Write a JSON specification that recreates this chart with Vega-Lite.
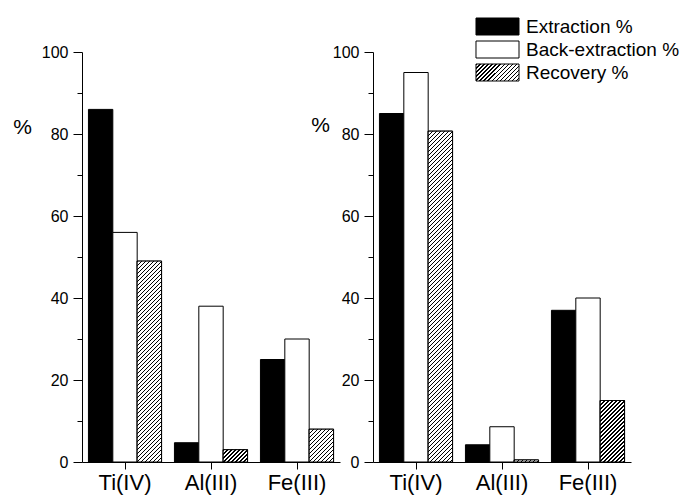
{
"$schema": "https://vega.github.io/schema/vega-lite/v6.json",
"padding": {"left": 12, "top": 17, "right": 5, "bottom": 5},
"params": [{"name": "hs", "value": [
{"offset":0,"color":"#000"},{"offset":0.004,"color":"#000"},{"offset":0.004,"color":"#fff"},{"offset":0.01,"color":"#fff"},
{"offset":0.01,"color":"#000"},{"offset":0.014,"color":"#000"},{"offset":0.014,"color":"#fff"},{"offset":0.02,"color":"#fff"},
{"offset":0.02,"color":"#000"},{"offset":0.024,"color":"#000"},{"offset":0.024,"color":"#fff"},{"offset":0.03,"color":"#fff"},
{"offset":0.03,"color":"#000"},{"offset":0.034,"color":"#000"},{"offset":0.034,"color":"#fff"},{"offset":0.04,"color":"#fff"},
{"offset":0.04,"color":"#000"},{"offset":0.044,"color":"#000"},{"offset":0.044,"color":"#fff"},{"offset":0.05,"color":"#fff"},
{"offset":0.05,"color":"#000"},{"offset":0.054,"color":"#000"},{"offset":0.054,"color":"#fff"},{"offset":0.06,"color":"#fff"},
{"offset":0.06,"color":"#000"},{"offset":0.064,"color":"#000"},{"offset":0.064,"color":"#fff"},{"offset":0.07,"color":"#fff"},
{"offset":0.07,"color":"#000"},{"offset":0.074,"color":"#000"},{"offset":0.074,"color":"#fff"},{"offset":0.08,"color":"#fff"},
{"offset":0.08,"color":"#000"},{"offset":0.084,"color":"#000"},{"offset":0.084,"color":"#fff"},{"offset":0.09,"color":"#fff"},
{"offset":0.09,"color":"#000"},{"offset":0.094,"color":"#000"},{"offset":0.094,"color":"#fff"},{"offset":0.1,"color":"#fff"},
{"offset":0.1,"color":"#000"},{"offset":0.104,"color":"#000"},{"offset":0.104,"color":"#fff"},{"offset":0.11,"color":"#fff"},
{"offset":0.11,"color":"#000"},{"offset":0.114,"color":"#000"},{"offset":0.114,"color":"#fff"},{"offset":0.12,"color":"#fff"},
{"offset":0.12,"color":"#000"},{"offset":0.124,"color":"#000"},{"offset":0.124,"color":"#fff"},{"offset":0.13,"color":"#fff"},
{"offset":0.13,"color":"#000"},{"offset":0.134,"color":"#000"},{"offset":0.134,"color":"#fff"},{"offset":0.14,"color":"#fff"},
{"offset":0.14,"color":"#000"},{"offset":0.144,"color":"#000"},{"offset":0.144,"color":"#fff"},{"offset":0.15,"color":"#fff"},
{"offset":0.15,"color":"#000"},{"offset":0.154,"color":"#000"},{"offset":0.154,"color":"#fff"},{"offset":0.16,"color":"#fff"},
{"offset":0.16,"color":"#000"},{"offset":0.164,"color":"#000"},{"offset":0.164,"color":"#fff"},{"offset":0.17,"color":"#fff"},
{"offset":0.17,"color":"#000"},{"offset":0.174,"color":"#000"},{"offset":0.174,"color":"#fff"},{"offset":0.18,"color":"#fff"},
{"offset":0.18,"color":"#000"},{"offset":0.184,"color":"#000"},{"offset":0.184,"color":"#fff"},{"offset":0.19,"color":"#fff"},
{"offset":0.19,"color":"#000"},{"offset":0.194,"color":"#000"},{"offset":0.194,"color":"#fff"},{"offset":0.2,"color":"#fff"},
{"offset":0.2,"color":"#000"},{"offset":0.204,"color":"#000"},{"offset":0.204,"color":"#fff"},{"offset":0.21,"color":"#fff"},
{"offset":0.21,"color":"#000"},{"offset":0.214,"color":"#000"},{"offset":0.214,"color":"#fff"},{"offset":0.22,"color":"#fff"},
{"offset":0.22,"color":"#000"},{"offset":0.224,"color":"#000"},{"offset":0.224,"color":"#fff"},{"offset":0.23,"color":"#fff"},
{"offset":0.23,"color":"#000"},{"offset":0.234,"color":"#000"},{"offset":0.234,"color":"#fff"},{"offset":0.24,"color":"#fff"},
{"offset":0.24,"color":"#000"},{"offset":0.244,"color":"#000"},{"offset":0.244,"color":"#fff"},{"offset":0.25,"color":"#fff"},
{"offset":0.25,"color":"#000"},{"offset":0.254,"color":"#000"},{"offset":0.254,"color":"#fff"},{"offset":0.26,"color":"#fff"},
{"offset":0.26,"color":"#000"},{"offset":0.264,"color":"#000"},{"offset":0.264,"color":"#fff"},{"offset":0.27,"color":"#fff"},
{"offset":0.27,"color":"#000"},{"offset":0.274,"color":"#000"},{"offset":0.274,"color":"#fff"},{"offset":0.28,"color":"#fff"},
{"offset":0.28,"color":"#000"},{"offset":0.284,"color":"#000"},{"offset":0.284,"color":"#fff"},{"offset":0.29,"color":"#fff"},
{"offset":0.29,"color":"#000"},{"offset":0.294,"color":"#000"},{"offset":0.294,"color":"#fff"},{"offset":0.3,"color":"#fff"},
{"offset":0.3,"color":"#000"},{"offset":0.304,"color":"#000"},{"offset":0.304,"color":"#fff"},{"offset":0.31,"color":"#fff"},
{"offset":0.31,"color":"#000"},{"offset":0.314,"color":"#000"},{"offset":0.314,"color":"#fff"},{"offset":0.32,"color":"#fff"},
{"offset":0.32,"color":"#000"},{"offset":0.324,"color":"#000"},{"offset":0.324,"color":"#fff"},{"offset":0.33,"color":"#fff"},
{"offset":0.33,"color":"#000"},{"offset":0.334,"color":"#000"},{"offset":0.334,"color":"#fff"},{"offset":0.34,"color":"#fff"},
{"offset":0.34,"color":"#000"},{"offset":0.344,"color":"#000"},{"offset":0.344,"color":"#fff"},{"offset":0.35,"color":"#fff"},
{"offset":0.35,"color":"#000"},{"offset":0.354,"color":"#000"},{"offset":0.354,"color":"#fff"},{"offset":0.36,"color":"#fff"},
{"offset":0.36,"color":"#000"},{"offset":0.364,"color":"#000"},{"offset":0.364,"color":"#fff"},{"offset":0.37,"color":"#fff"},
{"offset":0.37,"color":"#000"},{"offset":0.374,"color":"#000"},{"offset":0.374,"color":"#fff"},{"offset":0.38,"color":"#fff"},
{"offset":0.38,"color":"#000"},{"offset":0.384,"color":"#000"},{"offset":0.384,"color":"#fff"},{"offset":0.39,"color":"#fff"},
{"offset":0.39,"color":"#000"},{"offset":0.394,"color":"#000"},{"offset":0.394,"color":"#fff"},{"offset":0.4,"color":"#fff"},
{"offset":0.4,"color":"#000"},{"offset":0.404,"color":"#000"},{"offset":0.404,"color":"#fff"},{"offset":0.41,"color":"#fff"},
{"offset":0.41,"color":"#000"},{"offset":0.414,"color":"#000"},{"offset":0.414,"color":"#fff"},{"offset":0.42,"color":"#fff"},
{"offset":0.42,"color":"#000"},{"offset":0.424,"color":"#000"},{"offset":0.424,"color":"#fff"},{"offset":0.43,"color":"#fff"},
{"offset":0.43,"color":"#000"},{"offset":0.434,"color":"#000"},{"offset":0.434,"color":"#fff"},{"offset":0.44,"color":"#fff"},
{"offset":0.44,"color":"#000"},{"offset":0.444,"color":"#000"},{"offset":0.444,"color":"#fff"},{"offset":0.45,"color":"#fff"},
{"offset":0.45,"color":"#000"},{"offset":0.454,"color":"#000"},{"offset":0.454,"color":"#fff"},{"offset":0.46,"color":"#fff"},
{"offset":0.46,"color":"#000"},{"offset":0.464,"color":"#000"},{"offset":0.464,"color":"#fff"},{"offset":0.47,"color":"#fff"},
{"offset":0.47,"color":"#000"},{"offset":0.474,"color":"#000"},{"offset":0.474,"color":"#fff"},{"offset":0.48,"color":"#fff"},
{"offset":0.48,"color":"#000"},{"offset":0.484,"color":"#000"},{"offset":0.484,"color":"#fff"},{"offset":0.49,"color":"#fff"},
{"offset":0.49,"color":"#000"},{"offset":0.494,"color":"#000"},{"offset":0.494,"color":"#fff"},{"offset":0.5,"color":"#fff"},
{"offset":0.5,"color":"#000"},{"offset":0.504,"color":"#000"},{"offset":0.504,"color":"#fff"},{"offset":0.51,"color":"#fff"},
{"offset":0.51,"color":"#000"},{"offset":0.514,"color":"#000"},{"offset":0.514,"color":"#fff"},{"offset":0.52,"color":"#fff"},
{"offset":0.52,"color":"#000"},{"offset":0.524,"color":"#000"},{"offset":0.524,"color":"#fff"},{"offset":0.53,"color":"#fff"},
{"offset":0.53,"color":"#000"},{"offset":0.534,"color":"#000"},{"offset":0.534,"color":"#fff"},{"offset":0.54,"color":"#fff"},
{"offset":0.54,"color":"#000"},{"offset":0.544,"color":"#000"},{"offset":0.544,"color":"#fff"},{"offset":0.55,"color":"#fff"},
{"offset":0.55,"color":"#000"},{"offset":0.554,"color":"#000"},{"offset":0.554,"color":"#fff"},{"offset":0.56,"color":"#fff"},
{"offset":0.56,"color":"#000"},{"offset":0.564,"color":"#000"},{"offset":0.564,"color":"#fff"},{"offset":0.57,"color":"#fff"},
{"offset":0.57,"color":"#000"},{"offset":0.574,"color":"#000"},{"offset":0.574,"color":"#fff"},{"offset":0.58,"color":"#fff"},
{"offset":0.58,"color":"#000"},{"offset":0.584,"color":"#000"},{"offset":0.584,"color":"#fff"},{"offset":0.59,"color":"#fff"},
{"offset":0.59,"color":"#000"},{"offset":0.594,"color":"#000"},{"offset":0.594,"color":"#fff"},{"offset":0.6,"color":"#fff"},
{"offset":0.6,"color":"#000"},{"offset":0.604,"color":"#000"},{"offset":0.604,"color":"#fff"},{"offset":0.61,"color":"#fff"},
{"offset":0.61,"color":"#000"},{"offset":0.614,"color":"#000"},{"offset":0.614,"color":"#fff"},{"offset":0.62,"color":"#fff"},
{"offset":0.62,"color":"#000"},{"offset":0.624,"color":"#000"},{"offset":0.624,"color":"#fff"},{"offset":0.63,"color":"#fff"},
{"offset":0.63,"color":"#000"},{"offset":0.634,"color":"#000"},{"offset":0.634,"color":"#fff"},{"offset":0.64,"color":"#fff"},
{"offset":0.64,"color":"#000"},{"offset":0.644,"color":"#000"},{"offset":0.644,"color":"#fff"},{"offset":0.65,"color":"#fff"},
{"offset":0.65,"color":"#000"},{"offset":0.654,"color":"#000"},{"offset":0.654,"color":"#fff"},{"offset":0.66,"color":"#fff"},
{"offset":0.66,"color":"#000"},{"offset":0.664,"color":"#000"},{"offset":0.664,"color":"#fff"},{"offset":0.67,"color":"#fff"},
{"offset":0.67,"color":"#000"},{"offset":0.674,"color":"#000"},{"offset":0.674,"color":"#fff"},{"offset":0.68,"color":"#fff"},
{"offset":0.68,"color":"#000"},{"offset":0.684,"color":"#000"},{"offset":0.684,"color":"#fff"},{"offset":0.69,"color":"#fff"},
{"offset":0.69,"color":"#000"},{"offset":0.694,"color":"#000"},{"offset":0.694,"color":"#fff"},{"offset":0.7,"color":"#fff"},
{"offset":0.7,"color":"#000"},{"offset":0.704,"color":"#000"},{"offset":0.704,"color":"#fff"},{"offset":0.71,"color":"#fff"},
{"offset":0.71,"color":"#000"},{"offset":0.714,"color":"#000"},{"offset":0.714,"color":"#fff"},{"offset":0.72,"color":"#fff"},
{"offset":0.72,"color":"#000"},{"offset":0.724,"color":"#000"},{"offset":0.724,"color":"#fff"},{"offset":0.73,"color":"#fff"},
{"offset":0.73,"color":"#000"},{"offset":0.734,"color":"#000"},{"offset":0.734,"color":"#fff"},{"offset":0.74,"color":"#fff"},
{"offset":0.74,"color":"#000"},{"offset":0.744,"color":"#000"},{"offset":0.744,"color":"#fff"},{"offset":0.75,"color":"#fff"},
{"offset":0.75,"color":"#000"},{"offset":0.754,"color":"#000"},{"offset":0.754,"color":"#fff"},{"offset":0.76,"color":"#fff"},
{"offset":0.76,"color":"#000"},{"offset":0.764,"color":"#000"},{"offset":0.764,"color":"#fff"},{"offset":0.77,"color":"#fff"},
{"offset":0.77,"color":"#000"},{"offset":0.774,"color":"#000"},{"offset":0.774,"color":"#fff"},{"offset":0.78,"color":"#fff"},
{"offset":0.78,"color":"#000"},{"offset":0.784,"color":"#000"},{"offset":0.784,"color":"#fff"},{"offset":0.79,"color":"#fff"},
{"offset":0.79,"color":"#000"},{"offset":0.794,"color":"#000"},{"offset":0.794,"color":"#fff"},{"offset":0.8,"color":"#fff"},
{"offset":0.8,"color":"#000"},{"offset":0.804,"color":"#000"},{"offset":0.804,"color":"#fff"},{"offset":0.81,"color":"#fff"},
{"offset":0.81,"color":"#000"},{"offset":0.814,"color":"#000"},{"offset":0.814,"color":"#fff"},{"offset":0.82,"color":"#fff"},
{"offset":0.82,"color":"#000"},{"offset":0.824,"color":"#000"},{"offset":0.824,"color":"#fff"},{"offset":0.83,"color":"#fff"},
{"offset":0.83,"color":"#000"},{"offset":0.834,"color":"#000"},{"offset":0.834,"color":"#fff"},{"offset":0.84,"color":"#fff"},
{"offset":0.84,"color":"#000"},{"offset":0.844,"color":"#000"},{"offset":0.844,"color":"#fff"},{"offset":0.85,"color":"#fff"},
{"offset":0.85,"color":"#000"},{"offset":0.854,"color":"#000"},{"offset":0.854,"color":"#fff"},{"offset":0.86,"color":"#fff"},
{"offset":0.86,"color":"#000"},{"offset":0.864,"color":"#000"},{"offset":0.864,"color":"#fff"},{"offset":0.87,"color":"#fff"},
{"offset":0.87,"color":"#000"},{"offset":0.874,"color":"#000"},{"offset":0.874,"color":"#fff"},{"offset":0.88,"color":"#fff"},
{"offset":0.88,"color":"#000"},{"offset":0.884,"color":"#000"},{"offset":0.884,"color":"#fff"},{"offset":0.89,"color":"#fff"},
{"offset":0.89,"color":"#000"},{"offset":0.894,"color":"#000"},{"offset":0.894,"color":"#fff"},{"offset":0.9,"color":"#fff"},
{"offset":0.9,"color":"#000"},{"offset":0.904,"color":"#000"},{"offset":0.904,"color":"#fff"},{"offset":0.91,"color":"#fff"},
{"offset":0.91,"color":"#000"},{"offset":0.914,"color":"#000"},{"offset":0.914,"color":"#fff"},{"offset":0.92,"color":"#fff"},
{"offset":0.92,"color":"#000"},{"offset":0.924,"color":"#000"},{"offset":0.924,"color":"#fff"},{"offset":0.93,"color":"#fff"},
{"offset":0.93,"color":"#000"},{"offset":0.934,"color":"#000"},{"offset":0.934,"color":"#fff"},{"offset":0.94,"color":"#fff"},
{"offset":0.94,"color":"#000"},{"offset":0.944,"color":"#000"},{"offset":0.944,"color":"#fff"},{"offset":0.95,"color":"#fff"},
{"offset":0.95,"color":"#000"},{"offset":0.954,"color":"#000"},{"offset":0.954,"color":"#fff"},{"offset":0.96,"color":"#fff"},
{"offset":0.96,"color":"#000"},{"offset":0.964,"color":"#000"},{"offset":0.964,"color":"#fff"},{"offset":0.97,"color":"#fff"},
{"offset":0.97,"color":"#000"},{"offset":0.974,"color":"#000"},{"offset":0.974,"color":"#fff"},{"offset":0.98,"color":"#fff"},
{"offset":0.98,"color":"#000"},{"offset":0.984,"color":"#000"},{"offset":0.984,"color":"#fff"},{"offset":0.99,"color":"#fff"},
{"offset":0.99,"color":"#000"},{"offset":0.994,"color":"#000"},{"offset":0.994,"color":"#fff"},{"offset":1,"color":"#fff"}
]}],
"config": {
  "font": "Liberation Sans",
  "view": {"stroke": null},
  "axis": {"grid": false, "domainColor": "black", "tickColor": "black", "labelColor": "black", "titleColor": "black", "domainWidth": 1, "tickWidth": 1}
},
"datasets": {
  "left": [
    {"metal": "Ti(IV)", "series": "Extraction %", "v": 86},
    {"metal": "Ti(IV)", "series": "Back-extraction %", "v": 56},
    {"metal": "Ti(IV)", "series": "Recovery %", "v": 49},
    {"metal": "Al(III)", "series": "Extraction %", "v": 4.7},
    {"metal": "Al(III)", "series": "Back-extraction %", "v": 38},
    {"metal": "Al(III)", "series": "Recovery %", "v": 3},
    {"metal": "Fe(III)", "series": "Extraction %", "v": 25},
    {"metal": "Fe(III)", "series": "Back-extraction %", "v": 30},
    {"metal": "Fe(III)", "series": "Recovery %", "v": 8}
  ],
  "right": [
    {"metal": "Ti(IV)", "series": "Extraction %", "v": 85},
    {"metal": "Ti(IV)", "series": "Back-extraction %", "v": 95},
    {"metal": "Ti(IV)", "series": "Recovery %", "v": 80.7},
    {"metal": "Al(III)", "series": "Extraction %", "v": 4.2},
    {"metal": "Al(III)", "series": "Back-extraction %", "v": 8.6},
    {"metal": "Al(III)", "series": "Recovery %", "v": 0.5},
    {"metal": "Fe(III)", "series": "Extraction %", "v": 37},
    {"metal": "Fe(III)", "series": "Back-extraction %", "v": 40},
    {"metal": "Fe(III)", "series": "Recovery %", "v": 15}
  ]
},
"spacing": 33,
"bounds": "flush",
"resolve": {"scale": {"fill": "independent"}, "legend": {"fill": "independent"}},
"hconcat": [
  {
    "width": 258, "height": 410,
    "data": {"name": "left"},
    "encoding": {
      "x": {"field": "metal", "type": "nominal", "sort": ["Ti(IV)", "Al(III)", "Fe(III)"], "scale": {"paddingInner": 0.15, "paddingOuter": 0.075},
            "axis": {"title": null, "labelAngle": 0, "labelFontSize": 22, "tickSize": 7, "labelPadding": 3}},
      "xOffset": {"field": "series", "type": "nominal", "scale": {"domain": ["Extraction %", "Back-extraction %", "Recovery %"]}}
    },
    "resolve": {"axis": {"y": "independent"}},
    "layer": [
      {"mark": {"type": "bar", "stroke": "black", "strokeWidth": 1},
       "encoding": {
         "y": {"field": "v", "type": "quantitative", "scale": {"domain": [0, 100]},
               "axis": {"orient": "left", "values": [0,20,40,60,80,100], "tickSize": 9,
                        "labelFontSize": 16, "labelPadding": 5, "title": "%", "titleAngle": 0, "titleX": -60, "titleY": 75,
                        "titleFontSize": 21, "titleFontWeight": "normal", "titleAlign": "center", "titleBaseline": "middle"}},
         "fill": {"field": "series", "type": "nominal", "scale": {"domain": ["Extraction %", "Back-extraction %", "Recovery %"], "range": ["black", "white", "white"]}, "legend": null}}},
      {"transform": [{"filter": "datum.series === 'Recovery %'"}],
       "mark": {"type": "bar", "stroke": "black", "strokeWidth": 1,
                "fill": {"expr": "{gradient: 'linear', x1: 0, y1: 0, x2: 24.4*400/(595+pow(datum.v*4.1,2)), y2: datum.v*4.1*400/(595+pow(datum.v*4.1,2)), stops: hs}"}},
       "encoding": {
         "y": {"field": "v", "type": "quantitative",
               "axis": {"orient": "left", "values": [10,30,50,70,90], "tickSize": 5, "labels": false, "domain": false, "title": null}}}}
    ]
  },
  {
    "width": 258, "height": 410,
    "data": {"name": "right"},
    "encoding": {
      "x": {"field": "metal", "type": "nominal", "sort": ["Ti(IV)", "Al(III)", "Fe(III)"], "scale": {"paddingInner": 0.15, "paddingOuter": 0.075},
            "axis": {"title": null, "labelAngle": 0, "labelFontSize": 22, "tickSize": 7, "labelPadding": 3}},
      "xOffset": {"field": "series", "type": "nominal", "scale": {"domain": ["Extraction %", "Back-extraction %", "Recovery %"]}}
    },
    "resolve": {"axis": {"y": "independent"}},
    "layer": [
      {"mark": {"type": "bar", "stroke": "black", "strokeWidth": 1},
       "encoding": {
         "y": {"field": "v", "type": "quantitative", "scale": {"domain": [0, 100]},
               "axis": {"orient": "left", "values": [0,20,40,60,80,100], "tickSize": 9,
                        "labelFontSize": 16, "labelPadding": 5, "title": "%", "titleAngle": 0, "titleX": -53, "titleY": 73,
                        "titleFontSize": 21, "titleFontWeight": "normal", "titleAlign": "center", "titleBaseline": "middle"}},
         "fill": {"field": "series", "type": "nominal",
           "scale": {"domain": ["Extraction %", "Back-extraction %", "Recovery %"],
                     "range": ["black", "white", {"expr": "{gradient: 'linear', x1: 0, y1: 0, x2: 8.045, y2: 3.18, stops: hs}"}]},
           "legend": {"orient": "none", "legendX": 115, "legendY": -35, "title": null, "padding": 0,
                      "symbolType": "M-2.53,-1H2.53V1H-2.53Z", "symbolSize": 289, "symbolStrokeColor": "black", "symbolStrokeWidth": 1,
                      "labelFontSize": 19, "labelColor": "black", "labelOffset": 19, "rowPadding": 2,
                      "encode": {"symbols": {"update": {"stroke": {"value": "black"}, "strokeWidth": {"value": 1}}}}}}}},
      {"transform": [{"filter": "datum.series === 'Recovery %'"}],
       "mark": {"type": "bar", "stroke": "black", "strokeWidth": 1,
                "fill": {"expr": "{gradient: 'linear', x1: 0, y1: 0, x2: 24.4*400/(595+pow(datum.v*4.1,2)), y2: datum.v*4.1*400/(595+pow(datum.v*4.1,2)), stops: hs}"}},
       "encoding": {
         "y": {"field": "v", "type": "quantitative",
               "axis": {"orient": "left", "values": [10,30,50,70,90], "tickSize": 5, "labels": false, "domain": false, "title": null}}}}
    ]
  }
]
}
